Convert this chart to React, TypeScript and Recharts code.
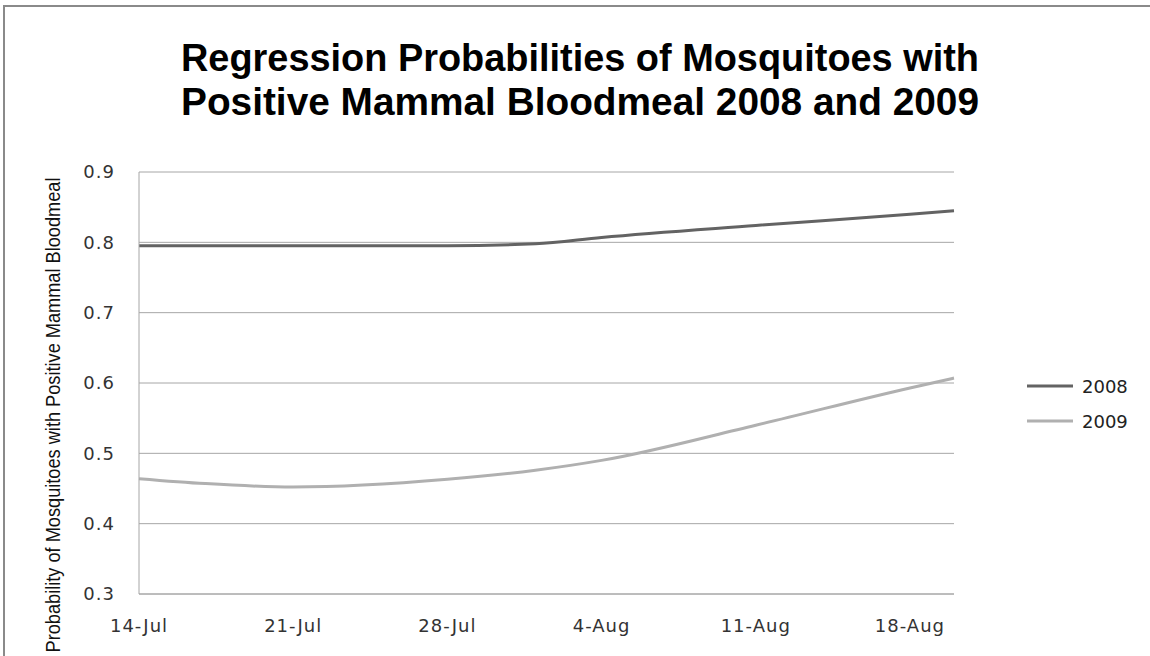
import { LineChart, Line, XAxis, YAxis, CartesianGrid, Legend } from "recharts";

// days after 14-Jul
const dayOffsets = [0, 3, 7, 14, 18, 21, 28, 35, 37];
const series2008 = [0.795, 0.795, 0.795, 0.795, 0.798, 0.807, 0.824, 0.84, 0.845];
const series2009 = [0.464, 0.457, 0.452, 0.463, 0.476, 0.49, 0.54, 0.593, 0.607];

const tickDays = [0, 7, 14, 21, 28, 35];
const tickLabels = ["14-Jul", "21-Jul", "28-Jul", "4-Aug", "11-Aug", "18-Aug"];
const yTicks = [0.3, 0.4, 0.5, 0.6, 0.7, 0.8, 0.9];

const data = dayOffsets.map((d, i) => ({
  day: d,
  y2008: series2008[i],
  y2009: series2009[i],
}));

const tickFont = { fontFamily: "DejaVu Sans", fontSize: 18, fill: "#333", letterSpacing: 1 };
const titleFont = "'Liberation Sans Narrow', 'Liberation Sans', Arial, sans-serif";

function LegendBox(props: any) {
  const items = props.payload || [];
  return (
    <svg width={120} height={70}>
      {items.map((p: any, i: number) => (
        <g key={p.value}>
          <line x1={0} x2={46} y1={12 + i * 35} y2={12 + i * 35} stroke={p.color} strokeWidth={3} />
          <text x={55} y={12 + i * 35} dominantBaseline="central" fontFamily="DejaVu Sans" fontSize={18} fill="#222">
            {p.value}
          </text>
        </g>
      ))}
    </svg>
  );
}

export default function App() {
  return (
    <div style={{ position: "absolute", left: 0, top: 0, width: 1150, height: 656, overflow: "hidden", background: "#fff" }}>
      <div style={{ position: "absolute", left: 3, top: 5, width: 1300, height: 800, border: "2px solid #8a8a8a" }} />
      <div style={{ position: "absolute", left: 0, top: 0 }}>
        <LineChart width={1150} height={656} data={data} margin={{ top: 172, right: 196, bottom: 0, left: 0 }}>
          <CartesianGrid horizontal vertical={false} stroke="#a6a6a6" />
          <XAxis
            dataKey="day"
            type="number"
            domain={[0, 37]}
            ticks={tickDays}
            tickFormatter={(v: number) => tickLabels[tickDays.indexOf(v)]}
            height={62}
            tickLine={false}
            tickSize={0}
            tickMargin={25}
            axisLine={{ stroke: "#a6a6a6" }}
            tick={tickFont}
            interval={0}
          />
          <YAxis
            type="number"
            domain={[0.3, 0.9]}
            ticks={yTicks}
            tickFormatter={(v: number) => v.toFixed(1)}
            width={139}
            tickLine={false}
            tickSize={0}
            tickMargin={24}
            axisLine={{ stroke: "#a6a6a6" }}
            tick={tickFont}
            interval={0}
          />
          <Legend
            layout="horizontal"
            align="center"
            verticalAlign="middle"
            content={LegendBox}
            wrapperStyle={{ position: "absolute", left: 1027, top: 374, width: 120, height: 70 }}
          />
          <Line type="monotone" dataKey="y2008" name="2008" stroke="#636363" strokeWidth={3} dot={false} isAnimationActive={false} />
          <Line type="monotone" dataKey="y2009" name="2009" stroke="#b0b0b0" strokeWidth={3} dot={false} isAnimationActive={false} />
          <text x={580} y={71} textAnchor="middle" fontFamily={titleFont} fontWeight="bold" fontSize={38} fill="#000" textLength={798} lengthAdjust="spacingAndGlyphs">
            Regression Probabilities of Mosquitoes with
          </text>
          <text x={580} y={115} textAnchor="middle" fontFamily={titleFont} fontWeight="bold" fontSize={38} fill="#000" textLength={798} lengthAdjust="spacingAndGlyphs">
            Positive Mammal Bloodmeal 2008 and 2009
          </text>
          <text x={53} y={415} transform="rotate(-90 53 415)" textAnchor="middle" dominantBaseline="central" fontFamily={titleFont} fontSize={20} fill="#111" textLength={475} lengthAdjust="spacingAndGlyphs">
            Probability of Mosquitoes with Positive Mammal Bloodmeal
          </text>
        </LineChart>
      </div>
    </div>
  );
}
